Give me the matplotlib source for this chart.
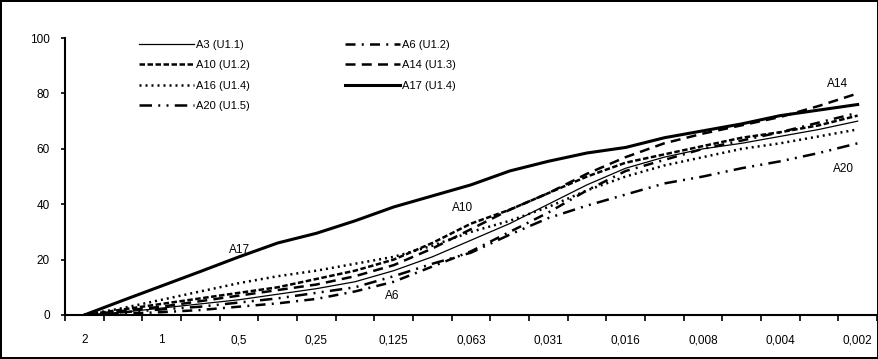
import numpy as np
import matplotlib
matplotlib.use('Agg')
import matplotlib.pyplot as plt

plt.rcParams['font.family'] = ['Liberation Sans', 'DejaVu Sans']

# 21 sieve classes, every second one labelled
class_labels = ['2', '', '1', '', '0,5', '', '0,25', '', '0,125', '', '0,063', '',
                '0,031', '', '0,016', '', '0,008', '', '0,004', '', '0,002']

# cumulative percentages
a3 = [0, 1, 2.5, 4, 5.5, 7.5, 9.5, 12, 16, 21, 27, 33, 40, 47, 53, 57, 60, 62, 64.5, 67, 70]
a6 = [0, 0.5, 1, 1.8, 3, 4.2, 5.8, 8.5, 12, 17.5, 23, 30, 37, 45, 52, 56, 60, 63, 66, 69.5, 73]
a10 = [0, 2, 4, 6, 8, 10, 13, 16, 20, 26, 33, 38, 44, 50, 55, 58, 61, 64, 66, 68.5, 72]
a14 = [0, 1.5, 3, 5, 7, 9, 11, 14, 18, 24, 31, 38, 44, 51, 57, 62, 65.5, 68.5, 71.5, 75.5, 80]
a16 = [0, 2.5, 5.5, 8.5, 11.5, 14, 16, 18.5, 21, 25, 30, 34, 39, 45, 50, 54, 57, 60, 62, 64.5, 67]
a17 = [0, 5.3, 10.5, 15.7, 21, 26, 29.5, 34, 39, 43, 47, 52, 55.5, 58.5, 60.5, 64, 66.5, 69, 72, 74, 76]
a20 = [0, 1, 2, 3, 4.5, 6, 8, 10, 14, 18.5, 22.5, 29, 35, 39.5, 43.5, 47.5, 50, 53, 55.5, 58.5, 62]

x = np.arange(len(class_labels))

fig = plt.figure(figsize=(8.79, 3.59), dpi=100)
fig.patch.set_edgecolor('black')
fig.patch.set_linewidth(1.5)
ax = fig.add_axes([0.074, 0.1226, 0.9237, 0.7714])

ax.plot(x, a3, color='black', lw=0.9, label='A3 (U1.1)')
ax.plot(x, a10, color='black', lw=1.8, linestyle=(0, (2.2, 1)), label='A10 (U1.2)')
ax.plot(x, a16, color='black', lw=1.8, linestyle=(0, (0.8, 1.6)), label='A16 (U1.4)')
ax.plot(x, a20, color='black', lw=1.8, linestyle=(0, (5, 2.5, 0.8, 2.5, 0.8, 2.5)), label='A20 (U1.5)')
ax.plot(x, a6, color='black', lw=1.8, linestyle=(0, (4, 2.5, 0.8, 2.5)), label='A6 (U1.2)')
ax.plot(x, a14, color='black', lw=1.8, linestyle=(0, (4, 2.5)), label='A14 (U1.3)')
ax.plot(x, a17, color='black', lw=2.2, label='A17 (U1.4)')

# curve labels
ax.text(4.0, 23.5, 'A17', fontsize=8.5, ha='center', va='center')
ax.text(9.78, 38.6, 'A10', fontsize=8.5, ha='center', va='center')
ax.text(7.95, 6.9, 'A6', fontsize=8.5, ha='center', va='center')
ax.text(19.47, 83.4, 'A14', fontsize=8.5, ha='center', va='center')
ax.text(19.63, 52.7, 'A20', fontsize=8.5, ha='center', va='center')

ax.set_xlim(-0.5, len(x) - 0.5)
ax.set_ylim(0, 100)
ax.set_yticks([0, 20, 40, 60, 80, 100])

# tick marks between classes, labels on the classes
ax.set_xticks(np.arange(-0.5, len(x)))
ax.set_xticklabels([])
ax.set_xticks(x, minor=True)
ax.set_xticklabels(class_labels, minor=True)
ax.tick_params(axis='x', which='major', length=4, width=1.2, direction='out')
ax.tick_params(axis='x', which='minor', length=0, pad=14, labelsize=8.5)
ax.tick_params(axis='y', length=3, width=1.2, direction='out', labelsize=8.5, pad=8)

for side in ['top', 'right']:
    ax.spines[side].set_visible(False)
for side in ['left', 'bottom']:
    ax.spines[side].set_linewidth(1.5)

fig.legend(loc='upper left', bbox_to_anchor=(0.152, 0.905), ncol=2, frameon=False,
           fontsize=8, handlelength=4.9, handletextpad=0.2, labelspacing=0.95,
           columnspacing=8.6, borderpad=0)

plt.savefig('out.png', dpi=100)
